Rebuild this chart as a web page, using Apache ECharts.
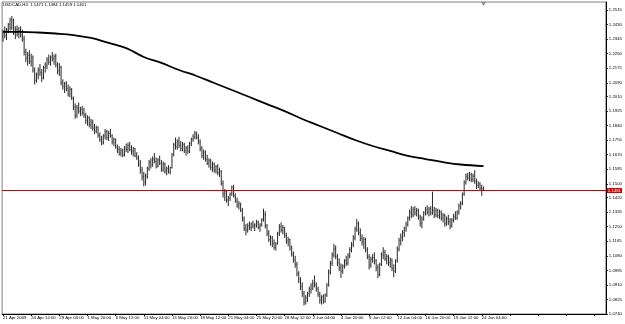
<!DOCTYPE html>
<html>
<head>
<meta charset="utf-8">
<script src="https://cdn.jsdelivr.net/npm/echarts@6/dist/echarts.min.js"></script>
<style>
html,body{margin:0;padding:0;background:#fff;}
#c{width:625px;height:324px;}
</style>
</head>
<body>
<div id="c"></div>
<script>
const symbolName = 'USDCAD,H4';
const xTickLabels = ['21 Apr 2009','24 Apr 12:00','29 Apr 04:00','1 May 20:00','6 May 12:00','11 May 04:00','13 May 20:00','18 May 12:00','21 May 04:00','25 May 20:00','28 May 12:00','2 Jun 04:00','4 Jun 20:00','9 Jun 12:00','12 Jun 04:00','16 Jun 20:00','19 Jun 12:00','24 Jun 04:00'];
const yTickLabels = [1.2515,1.2430,1.2345,1.2260,1.2175,1.2090,1.2010,1.1925,1.1840,1.1755,1.1670,1.1585,1.1500,1.1420,1.1335,1.1250,1.1165,1.1080,1.0995,1.0910,1.0825,1.0740];

const opens = [
1.2360,1.2385,1.2365,1.2400,1.2430,1.2410,1.2455,1.2385,1.2400,1.2375,
1.2395,1.2370,1.2345,1.2270,1.2235,1.2250,1.2215,1.2240,1.2165,1.2105,
1.2140,1.2165,1.2150,1.2120,1.2180,1.2195,1.2225,1.2210,1.2240,1.2230,
1.2245,1.2195,1.2160,1.2180,1.2090,1.2070,1.2085,1.2055,1.2025,1.2050,
1.2000,1.1950,1.1900,1.1945,1.1925,1.1935,1.1915,1.1900,1.1870,1.1885,
1.1845,1.1860,1.1825,1.1810,1.1830,1.1785,1.1760,1.1740,1.1780,1.1805,
1.1770,1.1795,1.1780,1.1745,1.1760,1.1715,1.1700,1.1680,1.1695,1.1670,
1.1710,1.1700,1.1725,1.1700,1.1690,1.1705,1.1665,1.1650,1.1615,1.1580,
1.1540,1.1510,1.1545,1.1590,1.1625,1.1610,1.1645,1.1630,1.1605,1.1640,
1.1620,1.1585,1.1615,1.1575,1.1590,1.1570,1.1595,1.1670,1.1730,1.1715,
1.1745,1.1725,1.1705,1.1730,1.1695,1.1710,1.1690,1.1735,1.1760,1.1775,
1.1795,1.1770,1.1745,1.1705,1.1665,1.1685,1.1645,1.1620,1.1635,1.1595,
1.1615,1.1580,1.1600,1.1565,1.1575,1.1505,1.1440,1.1455,1.1405,1.1415,
1.1440,1.1480,1.1430,1.1400,1.1375,1.1385,1.1345,1.1295,1.1240,1.1230,
1.1255,1.1245,1.1265,1.1250,1.1260,1.1275,1.1245,1.1260,1.1290,1.1320,
1.1255,1.1210,1.1175,1.1185,1.1150,1.1130,1.1150,1.1210,1.1250,1.1230,
1.1245,1.1200,1.1165,1.1175,1.1125,1.1090,1.1055,1.1030,1.0975,1.0940,
1.0900,1.0860,1.0810,1.0835,1.0860,1.0885,1.0905,1.0920,1.0910,1.0885,
1.0855,1.0820,1.0840,1.0815,1.0850,1.0910,1.0985,1.1035,1.1085,1.1120,
1.1075,1.1040,1.1010,1.0990,1.1020,1.1050,1.1035,1.1080,1.1115,1.1145,
1.1185,1.1235,1.1270,1.1215,1.1180,1.1160,1.1175,1.1115,1.1075,1.1025,
1.1060,1.1070,1.1050,1.1010,1.0970,1.1030,1.1085,1.1100,1.1065,1.1075,
1.1040,1.1055,1.1005,1.0990,1.1050,1.1120,1.1170,1.1190,1.1215,1.1240,
1.1265,1.1300,1.1335,1.1320,1.1350,1.1330,1.1345,1.1305,1.1270,1.1295,
1.1330,1.1350,1.1335,1.1355,1.1330,1.1345,1.1320,1.1345,1.1315,1.1335,
1.1300,1.1315,1.1270,1.1295,1.1280,1.1255,1.1290,1.1310,1.1300,1.1335,
1.1370,1.1385,1.1440,1.1510,1.1545,1.1535,1.1555,1.1525,1.1545,1.1515,
1.1490,1.1500,1.1475,1.1471];

const highs = [
1.2400,1.2420,1.2410,1.2440,1.2470,1.2480,1.2465,1.2420,1.2425,1.2415,
1.2420,1.2400,1.2365,1.2290,1.2270,1.2280,1.2260,1.2250,1.2180,1.2150,
1.2180,1.2200,1.2170,1.2190,1.2210,1.2240,1.2255,1.2250,1.2270,1.2255,
1.2260,1.2210,1.2205,1.2190,1.2110,1.2095,1.2100,1.2080,1.2070,1.2060,
1.2010,1.1970,1.1960,1.1975,1.1950,1.1955,1.1945,1.1915,1.1900,1.1895,
1.1880,1.1875,1.1850,1.1840,1.1835,1.1800,1.1780,1.1790,1.1820,1.1815,
1.1810,1.1820,1.1790,1.1770,1.1765,1.1730,1.1720,1.1710,1.1705,1.1720,
1.1735,1.1740,1.1745,1.1725,1.1715,1.1710,1.1685,1.1665,1.1640,1.1600,
1.1570,1.1560,1.1600,1.1640,1.1650,1.1660,1.1680,1.1655,1.1650,1.1665,
1.1640,1.1630,1.1625,1.1600,1.1610,1.1600,1.1680,1.1740,1.1770,1.1760,
1.1775,1.1750,1.1745,1.1740,1.1720,1.1725,1.1745,1.1770,1.1790,1.1810,
1.1805,1.1790,1.1760,1.1720,1.1700,1.1695,1.1670,1.1650,1.1645,1.1630,
1.1625,1.1610,1.1615,1.1595,1.1580,1.1520,1.1470,1.1465,1.1430,1.1450,
1.1490,1.1495,1.1445,1.1420,1.1400,1.1390,1.1360,1.1310,1.1265,1.1270,
1.1280,1.1275,1.1285,1.1270,1.1290,1.1285,1.1270,1.1300,1.1355,1.1340,
1.1265,1.1230,1.1200,1.1195,1.1175,1.1160,1.1220,1.1265,1.1275,1.1260,
1.1250,1.1215,1.1190,1.1180,1.1140,1.1105,1.1080,1.1045,1.0990,1.0955,
1.0925,1.0875,1.0850,1.0870,1.0900,1.0920,1.0940,1.0965,1.0925,1.0900,
1.0870,1.0850,1.0855,1.0860,1.0920,1.1000,1.1050,1.1100,1.1150,1.1140,
1.1090,1.1065,1.1035,1.1030,1.1060,1.1080,1.1095,1.1130,1.1160,1.1200,
1.1250,1.1295,1.1280,1.1240,1.1205,1.1190,1.1185,1.1130,1.1090,1.1075,
1.1090,1.1100,1.1060,1.1030,1.1040,1.1100,1.1130,1.1115,1.1090,1.1085,
1.1070,1.1065,1.1030,1.1060,1.1135,1.1185,1.1210,1.1230,1.1250,1.1280,
1.1310,1.1350,1.1370,1.1365,1.1370,1.1360,1.1355,1.1320,1.1310,1.1340,
1.1365,1.1375,1.1365,1.1370,1.1455,1.1365,1.1360,1.1355,1.1350,1.1345,
1.1330,1.1325,1.1310,1.1320,1.1300,1.1300,1.1325,1.1340,1.1345,1.1385,
1.1400,1.1450,1.1520,1.1560,1.1565,1.1570,1.1565,1.1560,1.1580,1.1530,
1.1515,1.1510,1.1495,1.1484];

const lows = [
1.2330,1.2350,1.2340,1.2380,1.2395,1.2400,1.2370,1.2345,1.2360,1.2350,
1.2355,1.2330,1.2250,1.2210,1.2190,1.2200,1.2185,1.2150,1.2080,1.2090,
1.2110,1.2130,1.2095,1.2110,1.2150,1.2170,1.2195,1.2190,1.2215,1.2195,
1.2180,1.2140,1.2130,1.2075,1.2050,1.2030,1.2040,1.2010,1.2005,1.1990,
1.1930,1.1880,1.1885,1.1910,1.1895,1.1900,1.1885,1.1850,1.1840,1.1830,
1.1820,1.1810,1.1790,1.1795,1.1770,1.1745,1.1725,1.1730,1.1760,1.1755,
1.1750,1.1770,1.1730,1.1720,1.1705,1.1680,1.1665,1.1660,1.1655,1.1660,
1.1685,1.1680,1.1690,1.1670,1.1660,1.1655,1.1640,1.1600,1.1560,1.1520,
1.1485,1.1490,1.1530,1.1575,1.1590,1.1600,1.1620,1.1590,1.1595,1.1610,
1.1570,1.1570,1.1560,1.1550,1.1560,1.1555,1.1590,1.1660,1.1700,1.1700,
1.1710,1.1690,1.1690,1.1680,1.1665,1.1675,1.1680,1.1720,1.1745,1.1760,
1.1760,1.1730,1.1690,1.1650,1.1640,1.1630,1.1610,1.1595,1.1580,1.1570,
1.1565,1.1560,1.1550,1.1540,1.1490,1.1420,1.1400,1.1390,1.1370,1.1400,
1.1430,1.1420,1.1390,1.1360,1.1350,1.1335,1.1280,1.1225,1.1200,1.1215,
1.1230,1.1225,1.1240,1.1225,1.1245,1.1235,1.1220,1.1250,1.1280,1.1240,
1.1195,1.1160,1.1140,1.1130,1.1115,1.1110,1.1145,1.1195,1.1215,1.1205,
1.1185,1.1150,1.1135,1.1110,1.1075,1.1040,1.1010,1.0960,1.0920,1.0880,
1.0840,1.0790,1.0795,1.0810,1.0840,1.0860,1.0880,1.0895,1.0870,1.0840,
1.0800,1.0795,1.0800,1.0805,1.0840,1.0900,1.0970,1.1020,1.1070,1.1060,
1.1020,1.0990,1.0950,1.0975,1.1005,1.1020,1.1025,1.1065,1.1100,1.1130,
1.1170,1.1220,1.1200,1.1165,1.1140,1.1120,1.1100,1.1060,1.1000,1.1010,
1.1040,1.1030,1.0990,1.0950,1.0960,1.1020,1.1060,1.1050,1.1030,1.1020,
1.1010,1.0990,1.0955,1.0980,1.1040,1.1105,1.1140,1.1165,1.1190,1.1220,
1.1250,1.1285,1.1300,1.1305,1.1315,1.1310,1.1290,1.1250,1.1240,1.1285,
1.1315,1.1320,1.1310,1.1315,1.1320,1.1300,1.1305,1.1300,1.1295,1.1285,
1.1275,1.1250,1.1255,1.1260,1.1235,1.1245,1.1275,1.1290,1.1290,1.1320,
1.1350,1.1375,1.1430,1.1495,1.1520,1.1515,1.1510,1.1510,1.1500,1.1470,
1.1475,1.1460,1.1430,1.1459];

const closes = [
1.2385,1.2365,1.2400,1.2430,1.2410,1.2455,1.2385,1.2400,1.2375,1.2395,
1.2370,1.2345,1.2270,1.2235,1.2250,1.2215,1.2240,1.2165,1.2105,1.2140,
1.2165,1.2150,1.2120,1.2180,1.2195,1.2225,1.2210,1.2240,1.2230,1.2245,
1.2195,1.2160,1.2180,1.2090,1.2070,1.2085,1.2055,1.2025,1.2050,1.2000,
1.1950,1.1900,1.1945,1.1925,1.1935,1.1915,1.1900,1.1870,1.1885,1.1845,
1.1860,1.1825,1.1810,1.1830,1.1785,1.1760,1.1740,1.1780,1.1805,1.1770,
1.1795,1.1780,1.1745,1.1760,1.1715,1.1700,1.1680,1.1695,1.1670,1.1710,
1.1700,1.1725,1.1700,1.1690,1.1705,1.1665,1.1650,1.1615,1.1580,1.1540,
1.1510,1.1545,1.1590,1.1625,1.1610,1.1645,1.1630,1.1605,1.1640,1.1620,
1.1585,1.1615,1.1575,1.1590,1.1570,1.1595,1.1670,1.1730,1.1715,1.1745,
1.1725,1.1705,1.1730,1.1695,1.1710,1.1690,1.1735,1.1760,1.1775,1.1795,
1.1770,1.1745,1.1705,1.1665,1.1685,1.1645,1.1620,1.1635,1.1595,1.1615,
1.1580,1.1600,1.1565,1.1575,1.1505,1.1440,1.1455,1.1405,1.1415,1.1440,
1.1480,1.1430,1.1400,1.1375,1.1385,1.1345,1.1295,1.1240,1.1230,1.1255,
1.1245,1.1265,1.1250,1.1260,1.1275,1.1245,1.1260,1.1290,1.1320,1.1255,
1.1210,1.1175,1.1185,1.1150,1.1130,1.1150,1.1210,1.1250,1.1230,1.1245,
1.1200,1.1165,1.1175,1.1125,1.1090,1.1055,1.1030,1.0975,1.0940,1.0900,
1.0860,1.0810,1.0835,1.0860,1.0885,1.0905,1.0920,1.0910,1.0885,1.0855,
1.0820,1.0840,1.0815,1.0850,1.0910,1.0985,1.1035,1.1085,1.1120,1.1075,
1.1040,1.1010,1.0990,1.1020,1.1050,1.1035,1.1080,1.1115,1.1145,1.1185,
1.1235,1.1270,1.1215,1.1180,1.1160,1.1175,1.1115,1.1075,1.1025,1.1060,
1.1070,1.1050,1.1010,1.0970,1.1030,1.1085,1.1100,1.1065,1.1075,1.1040,
1.1055,1.1005,1.0990,1.1050,1.1120,1.1170,1.1190,1.1215,1.1240,1.1265,
1.1300,1.1335,1.1320,1.1350,1.1330,1.1345,1.1305,1.1270,1.1295,1.1330,
1.1350,1.1335,1.1355,1.1330,1.1345,1.1320,1.1345,1.1315,1.1335,1.1300,
1.1315,1.1270,1.1295,1.1280,1.1255,1.1290,1.1310,1.1300,1.1335,1.1370,
1.1385,1.1440,1.1510,1.1545,1.1535,1.1555,1.1525,1.1545,1.1515,1.1490,
1.1500,1.1475,1.1470,1.1461];

// moving average, read at every 10th bar
const maBars = [0,10,20,30,40,50,60,70,80,90,100,110,120,130,140,150,160,170,180,190,200,210,220,230,240,250,260,273];
const maValues = [1.2387,1.2387,1.2384,1.2378,1.2369,1.2352,1.2323,1.2293,1.2241,1.2206,1.2165,1.2130,1.2089,1.2048,1.2007,1.1966,1.1925,1.1879,1.1838,1.1797,1.1756,1.1721,1.1692,1.1663,1.1645,1.1627,1.1613,1.1604];

const totalSlots = 343;   // bars plus empty chart shift on the right
const barsPerLabel = 16;
const yMin = 1.0740, yMax = 1.2562;

const cats = [];
for (let i = 0; i < totalSlots; i++) cats.push(String(i));
const ohlc = opens.map((o, i) => [i, o, highs[i], lows[i], closes[i]]);
const ma = maBars.map((b, k) => [b, maValues[k]]);
const n = closes.length;
const lastClose = closes[n - 1];
const titleText = symbolName + '  ' + [opens[n-1], highs[n-1], lows[n-1], closes[n-1]].map(v => v.toFixed(4)).join(' ');

const chart = echarts.init(document.getElementById('c'), null, {renderer: 'canvas'});
const FONT = 'Liberation Sans';
const FS = 4.3;
chart.setOption({
  animation: false,
  backgroundColor: '#fff',
  title: {text: titleText, left: 3, top: 3, padding: 0, textStyle: {fontSize: FS, fontWeight: 'normal', color: '#000', fontFamily: FONT}},
  grid: {left: 0, right: 18, top: 2, bottom: 10, show: true, borderColor: '#808080', borderWidth: 1, backgroundColor: '#fff'},
  xAxis: {
    type: 'category', data: cats, boundaryGap: true,
    axisLine: {show: true, lineStyle: {color: '#000', width: 1}},
    axisTick: {show: true, interval: barsPerLabel - 1, length: 2, alignWithLabel: true, lineStyle: {color: '#000'}},
    axisLabel: {interval: barsPerLabel - 1, align: 'left', margin: 1.5, fontSize: FS, color: '#000', fontFamily: FONT,
      formatter: (v, idx) => { const k = idx / barsPerLabel; return xTickLabels[k] || ''; }},
    splitLine: {show: false}
  },
  yAxis: {
    type: 'value', position: 'right', min: yMin, max: yMax, scale: true,
    axisLine: {show: true, lineStyle: {color: '#000', width: 1}},
    axisTick: {show: true, length: 2, customValues: yTickLabels, lineStyle: {color: '#000'}},
    axisLabel: {customValues: yTickLabels, margin: 3, fontSize: FS, color: '#000', fontFamily: FONT, formatter: v => v.toFixed(4)},
    splitLine: {show: false}
  },
  series: [
    {
      type: 'custom', name: 'bars', data: ohlc, encode: {x: 0, y: [1, 2, 3, 4]},
      renderItem: (params, api) => {
        const x = api.value(0);
        const o = api.coord([x, api.value(1)]);
        const h = api.coord([x, api.value(2)]);
        const l = api.coord([x, api.value(3)]);
        const c = api.coord([x, api.value(4)]);
        const w = api.size([1, 0])[0];
        const t = w * 0.4;
        const st = {stroke: '#000', lineWidth: 0.85};
        const stt = {stroke: '#333', lineWidth: 0.7};
        return {type: 'group', children: [
          {type: 'line', shape: {x1: h[0], y1: h[1], x2: l[0], y2: l[1]}, style: st},
          {type: 'line', shape: {x1: o[0] - t, y1: o[1], x2: o[0], y2: o[1]}, style: stt},
          {type: 'line', shape: {x1: c[0], y1: c[1], x2: c[0] + t, y2: c[1]}, style: stt}
        ]};
      },
      markLine: {
        silent: true, symbol: ['none', 'none'], precision: 4,
        lineStyle: {color: '#d00000', width: 1, type: 'solid'},
        label: {show: true, position: 'end', distance: 1, formatter: lastClose.toFixed(4), backgroundColor: '#d00000', color: '#fff', fontSize: FS, fontFamily: FONT, padding: [1, 1, 0, 1]},
        data: [{yAxis: lastClose}]
      },
      markPoint: {
        silent: true,
        data: [{coord: [n - 1, yMax], symbol: 'triangle', symbolRotate: 180, symbolSize: [5, 4], symbolOffset: [0, 2], itemStyle: {color: '#909090'}, label: {show: false}}]
      }
    },
    {
      type: 'line', name: 'MA', data: ma, smooth: 0.4, showSymbol: false, symbol: 'none',
      lineStyle: {color: '#000', width: 1.8}
    }
  ]
});
</script>
</body>
</html>
